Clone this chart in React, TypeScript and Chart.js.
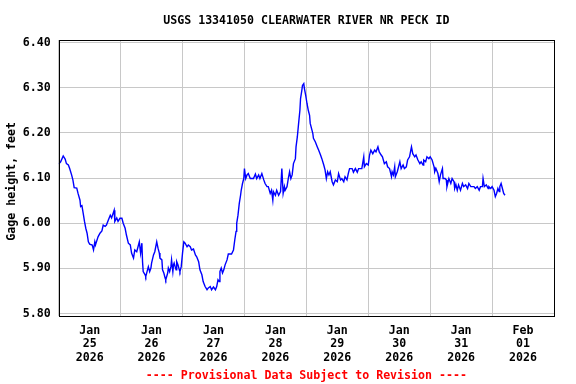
import React, { useEffect, useRef } from 'react';
import { Chart, registerables } from 'chart.js';

Chart.register(...registerables);

const TITLE = 'USGS 13341050 CLEARWATER RIVER NR PECK ID';
const FOOTER = '---- Provisional Data Subject to Revision ----';
const Y_TITLE = 'Gage height, feet ';

// Day labels (centered at noon of each day); hours counted from Jan 25 2026 00:00
const dayMonths = ['Jan', 'Jan', 'Jan', 'Jan', 'Jan', 'Jan', 'Jan', 'Feb'];
const dayNumbers = ['25', '26', '27', '28', '29', '30', '31', '01'];
const dayYears = ['2026', '2026', '2026', '2026', '2026', '2026', '2026', '2026'];
const yTicks = [5.8, 5.9, 6.0, 6.1, 6.2, 6.3, 6.4];

const hours = [
  0, 0.75, 1.75, 2.5, 3, 3.75, 4.25, 5, 5.5, 6, 7, 7.5, 8.25, 8.5, 9, 9.5, 10, 10.5, 11, 11.5,
  12, 13, 13.5, 14, 14.25, 15.25, 16, 16.75, 17.25, 18, 18.5, 19.25, 20, 20.5, 21.5, 21.75, 22.5, 23, 23.75,
  24.5, 25, 25.75, 26.25, 27, 27.75, 28.25, 29, 29.5, 30.25, 30.75, 31.25, 31.75, 32.25, 32.5, 32.75, 33.5,
  33.75, 34.25, 34.75, 35.25, 35.75, 36, 36.75, 37.25, 38, 38.5, 39, 39.25, 40, 40.25, 40.75, 41.25, 41.5,
  42.25, 42.5, 43, 43.5, 43.75, 44.25, 44.5, 44.75, 45.5, 45.75, 46.25, 46.75, 47, 47.5,
  48, 48.5, 49, 49.75, 50.25, 51, 51.5, 52.25, 53, 53.5, 54.25, 54.75, 55.5, 56, 56.75, 57.5, 58, 58.75,
  59.25, 60, 60.75, 61.25, 61.75, 62.25, 62.5, 63, 63.5, 64, 64.5, 65.25, 65.75, 67, 67.75, 68.25, 68.75,
  69, 69.5, 70, 70.5, 70.75, 71.25, 71.75,
  72, 72.5, 73, 73.5, 74.25, 75.5, 76.25, 76.75, 77.5, 78, 78.75, 79.5, 80, 80.75, 81.25, 82, 82.5, 83,
  83.25, 84, 84.5, 85.25, 86, 86.5, 87, 87.5, 87.75, 88.5, 89, 89.5, 90, 90.5, 91, 91.75, 92, 92.5, 93,
  93.5, 93.75, 94.25, 94.5, 95, 95.25, 95.75,
  96.25, 96.75, 97.25, 97.5, 98, 98.5, 98.75, 99.5, 100.25, 100.75, 101.5, 102, 102.75, 103.25, 103.75,
  104.25, 104.75, 105.25, 106, 106.5, 107.25, 108, 108.5, 109.25, 109.75, 110.5, 111, 111.75, 112.25,
  112.75, 113.75, 114.25, 115, 115.75, 116.25, 117.5, 118.25, 118.5, 119.25,
  120, 120.5, 121, 121.75, 122.5, 123, 123.75, 124.25, 125, 125.5, 126.25, 127, 127.5, 128.25, 129,
  129.25, 129.75, 130.25, 130.5, 131.25, 131.75, 132.25, 132.75, 133.5, 134, 134.75, 135.25, 136, 136.5,
  136.75, 137.25, 138, 138.5, 139.25, 140, 140.5, 141.25, 141.5, 142.25, 142.75, 143.5,
  144, 144.75, 145.5, 145.75, 146.25, 147, 147.5, 148, 148.75, 149, 149.75, 150.25, 150.5, 151.25, 152,
  152.5, 153.25, 153.5, 154, 154.5, 155, 155.75, 156.5, 157, 157.75, 158.5, 159, 159.75, 160.25, 161,
  161.5, 162.25, 163, 163.5, 164.25, 164.5, 165, 165.75, 166.5, 166.75, 167.5,
  168, 168.75, 169.25, 169.75, 170.25, 170.75, 171, 171.5, 172, 172.5, 173,
];

const gageHeight = [
  6.131, 6.136, 6.149, 6.142, 6.132, 6.129, 6.121, 6.107, 6.096, 6.079, 6.078, 6.066, 6.051, 6.037, 6.039, 6.022, 6.004, 5.989, 5.978, 5.959,
  5.954, 5.952, 5.941, 5.959, 5.952, 5.970, 5.978, 5.983, 5.996, 5.993, 5.996, 6.007, 6.018, 6.012, 6.029, 6.004, 6.012, 6.004, 6.011,
  6.011, 6.000, 5.989, 5.974, 5.956, 5.952, 5.934, 5.923, 5.941, 5.937, 5.948, 5.959, 5.934, 5.956, 5.915, 5.893, 5.886,
  5.882, 5.893, 5.904, 5.893, 5.901, 5.912, 5.930, 5.937, 5.959, 5.945, 5.934, 5.923, 5.919, 5.897, 5.890, 5.879, 5.875,
  5.890, 5.901, 5.893, 5.904, 5.919, 5.893, 5.908, 5.912, 5.897, 5.915, 5.908, 5.897, 5.893, 5.904,
  5.934, 5.959, 5.956, 5.948, 5.952, 5.948, 5.941, 5.943, 5.930, 5.926, 5.915, 5.897, 5.886, 5.871, 5.860, 5.853, 5.857, 5.860,
  5.853, 5.859, 5.853, 5.860, 5.875, 5.871, 5.893, 5.901, 5.890, 5.897, 5.908, 5.919, 5.932, 5.932, 5.941, 5.963, 5.982,
  6.000, 6.018, 6.044, 6.062, 6.073, 6.088, 6.099,
  6.121, 6.099, 6.107, 6.110, 6.099, 6.099, 6.109, 6.099, 6.107, 6.099, 6.110, 6.096, 6.088, 6.081, 6.081, 6.066, 6.073, 6.051,
  6.070, 6.062, 6.073, 6.062, 6.070, 6.121, 6.066, 6.081, 6.073, 6.081, 6.099, 6.114, 6.099, 6.107, 6.132, 6.143, 6.169, 6.191, 6.221,
  6.250, 6.276, 6.294, 6.305, 6.309, 6.298, 6.283,
  6.265, 6.250, 6.239, 6.221, 6.210, 6.199, 6.188, 6.180, 6.169, 6.162, 6.151, 6.143, 6.129, 6.118, 6.099,
  6.114, 6.107, 6.114, 6.092, 6.085, 6.096, 6.092, 6.110, 6.096, 6.099, 6.092, 6.103, 6.096, 6.110,
  6.121, 6.121, 6.113, 6.121, 6.113, 6.121, 6.121, 6.147, 6.125, 6.132,
  6.129, 6.151, 6.162, 6.154, 6.162, 6.158, 6.169, 6.158, 6.151, 6.147, 6.132, 6.136, 6.125, 6.121, 6.103,
  6.114, 6.107, 6.125, 6.103, 6.114, 6.125, 6.136, 6.121, 6.129, 6.121, 6.125, 6.140, 6.147, 6.162,
  6.169, 6.154, 6.147, 6.151, 6.140, 6.132, 6.136, 6.129, 6.140, 6.136, 6.147, 6.143,
  6.147, 6.140, 6.125, 6.114, 6.121, 6.110, 6.092, 6.107, 6.121, 6.099, 6.099, 6.096, 6.081, 6.099, 6.088,
  6.099, 6.092, 6.077, 6.085, 6.073, 6.085, 6.073, 6.088, 6.081, 6.085, 6.077, 6.088, 6.081, 6.081, 6.081,
  6.077, 6.081, 6.073, 6.081, 6.081, 6.099, 6.081, 6.085, 6.077, 6.081, 6.077,
  6.081, 6.073, 6.059, 6.066, 6.077, 6.070, 6.081, 6.088, 6.077, 6.066, 6.062,
];

const FONT_FAMILY = '"DejaVu Sans Mono", "Liberation Mono", monospace';
const baseFont = { family: FONT_FAMILY, size: 11.6, weight: 'bold' as const, lineHeight: 1.15 };

const framePlugin = {
  id: 'plotFrame',
  afterDraw(chart: any) {
    const { ctx, chartArea } = chart;
    const l = Math.round(chartArea.left) + 0.5;
    const t = Math.round(chartArea.top) + 0.5;
    const r = Math.round(chartArea.right) + 0.5;
    const b = Math.round(chartArea.bottom) + 0.5;
    ctx.save();
    ctx.strokeStyle = '#000000';
    ctx.lineWidth = 1;
    ctx.strokeRect(l, t, r - l, b - t);
    ctx.restore();
  },
};

export default function App() {
  const canvasRef = useRef<HTMLCanvasElement | null>(null);

  useEffect(() => {
    document.body.style.margin = '0';
    const canvas = canvasRef.current;
    if (!canvas) return;
    const tickHours: number[] = [];
    for (let i = 0; i <= dayNumbers.length * 2; i++) tickHours.push(i * 12);

    const chart = new Chart(canvas, {
      type: 'line',
      data: {
        datasets: [
          {
            data: hours.map((h, i) => ({ x: h, y: gageHeight[i] })),
            borderColor: '#0000ff',
            borderWidth: 1.4,
            pointRadius: 0,
            tension: 0,
            fill: false,
          },
        ],
      },
      options: {
        responsive: false,
        animation: false,
        devicePixelRatio: 1,
        layout: { padding: { left: 0, right: 22, top: 0, bottom: 0 } },
        plugins: {
          legend: { display: false },
          tooltip: { enabled: false },
          title: {
            display: true,
            text: TITLE,
            color: '#000000',
            font: baseFont,
            fullSize: false,
            padding: { top: 14, bottom: 12.66 },
          },
          subtitle: {
            display: true,
            position: 'bottom',
            text: FOOTER,
            color: '#ff0000',
            font: baseFont,
            fullSize: false,
            padding: { top: 0, bottom: 1.5 },
          },
        },
        scales: {
          x: {
            type: 'linear',
            min: 0,
            max: dayNumbers.length * 24,
            afterBuildTicks: (axis: any) => {
              axis.ticks = tickHours.map((v) => ({ value: v }));
            },
            afterFit: (axis: any) => {
              axis.height = 53.5;
            },
            ticks: {
              autoSkip: false,
              maxRotation: 0,
              minRotation: 0,
              padding: 8.5,
              color: '#000000',
              font: baseFont,
              callback: (value: any) => {
                const v = Number(value);
                if (v % 24 !== 12) return '';
                const d = (v - 12) / 24;
                return [dayMonths[d], dayNumbers[d], dayYears[d]];
              },
            },
            grid: {
              drawTicks: false,
              lineWidth: 1,
              color: (ctx: any) => {
                const v = ctx.tick ? ctx.tick.value : 0;
                return v % 24 === 0 ? '#c8c8c8' : 'rgba(0,0,0,0)';
              },
            },
            border: { display: false },
          },
          y: {
            type: 'linear',
            min: 5.7956,
            max: 6.4055,
            afterBuildTicks: (axis: any) => {
              axis.ticks = yTicks.map((v) => ({ value: v }));
            },
            afterFit: (axis: any) => {
              axis.width = 58.7;
            },
            ticks: {
              padding: 8,
              color: '#000000',
              font: baseFont,
              callback: (value: any) => Number(value).toFixed(2),
            },
            grid: { drawTicks: false, color: '#c8c8c8', lineWidth: 1 },
            border: { display: false },
            title: {
              display: true,
              text: Y_TITLE,
              color: '#000000',
              font: baseFont,
              padding: { top: 5, bottom: 0 },
            },
          },
        },
      },
      plugins: [framePlugin],
    });
    return () => chart.destroy();
  }, []);

  return (
    <div style={{ position: 'absolute', left: 0, top: 0, width: 576, height: 384, background: '#ffffff' }}>
      <canvas ref={canvasRef} width={576} height={384} />
    </div>
  );
}
